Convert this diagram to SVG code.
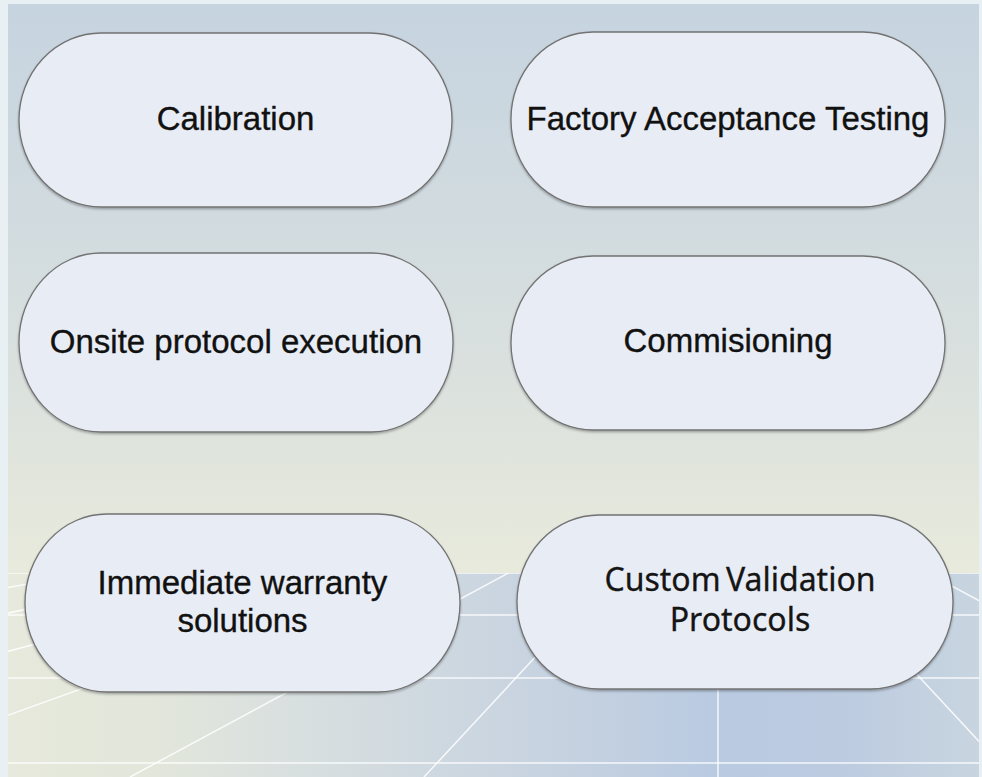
<svg xmlns="http://www.w3.org/2000/svg" width="982" height="777" viewBox="0 0 982 777">
<defs>
<linearGradient id="sky" gradientUnits="userSpaceOnUse" x1="0" y1="4" x2="0" y2="573">
<stop offset="0" stop-color="#c6d4e0"/>
<stop offset="0.35" stop-color="#d0dadf"/>
<stop offset="0.62" stop-color="#d9e0de"/>
<stop offset="0.85" stop-color="#e2e6dc"/>
<stop offset="1" stop-color="#e8eadc"/>
</linearGradient>
<linearGradient id="floor" gradientUnits="userSpaceOnUse" x1="8" y1="0" x2="979" y2="0">
<stop offset="0" stop-color="#e6e9db"/>
<stop offset="0.15" stop-color="#e2e6db"/>
<stop offset="0.3" stop-color="#d8dfdf"/>
<stop offset="0.46" stop-color="#cdd7e0"/>
<stop offset="0.61" stop-color="#c3d0e0"/>
<stop offset="0.73" stop-color="#b9cae1"/>
<stop offset="0.86" stop-color="#bccbe0"/>
<stop offset="1" stop-color="#c8d5e0"/>
</linearGradient>
<clipPath id="floorClip"><rect x="8" y="573" width="971" height="204"/></clipPath>
<filter id="sh" x="-5%" y="-5%" width="110%" height="115%">
<feDropShadow dx="0" dy="1.5" stdDeviation="1" flood-color="#000" flood-opacity="0.3"/>
</filter>
</defs>
<style>
.node{fill:#e8ecf4;stroke:#727272;stroke-width:1.3;filter:url(#sh)}
.lbl{font-family:"Liberation Sans",Arial,Helvetica,sans-serif;font-size:33px;fill:#111111;stroke:#111111;stroke-width:0.35;text-anchor:middle}
.lbl2{font-family:"Noto Sans","Liberation Sans",sans-serif;font-size:32px;fill:#151515;stroke:#151515;stroke-width:0.3;text-anchor:middle;word-spacing:-3px}
.gl{stroke:#ffffff;stroke-width:1.5;stroke-opacity:0.85;fill:none}
</style>
<g id="background">
<rect x="0" y="0" width="982" height="777" fill="#e9f0f3"/>
<rect x="8" y="4" width="971" height="773" fill="url(#sky)"/>
<rect x="8" y="573" width="971" height="204" fill="url(#floor)"/>
<g clip-path="url(#floorClip)">
<line class="gl" x1="8" y1="573" x2="979" y2="573" stroke-opacity="0.45"/>
<line class="gl" x1="8" y1="615" x2="979" y2="615"/>
<line class="gl" x1="8" y1="678" x2="979" y2="678"/>
<line class="gl" x1="8" y1="763" x2="979" y2="763" stroke-width="2.5"/>
<line class="gl" x1="718" y1="460" x2="-1046" y2="777"/>
<line class="gl" x1="718" y1="460" x2="-752" y2="777"/>
<line class="gl" x1="718" y1="460" x2="-458" y2="777"/>
<line class="gl" x1="718" y1="460" x2="-164" y2="777"/>
<line class="gl" x1="718" y1="460" x2="130" y2="777"/>
<line class="gl" x1="718" y1="460" x2="424" y2="777"/>
<line class="gl" x1="718" y1="460" x2="718" y2="777"/>
<line class="gl" x1="718" y1="460" x2="1012" y2="777"/>
<line class="gl" x1="718" y1="460" x2="1306" y2="777"/>
</g>
</g>
<g id="connectors"/>
<g id="node-calibration">
<rect class="node" x="19" y="33" width="433" height="174" rx="82" ry="87"/>
<text class="lbl" x="235.5" y="130">Calibration</text>
</g>
<g id="node-fat">
<rect class="node" x="511" y="32" width="434" height="175" rx="82" ry="87"/>
<text class="lbl" x="728" y="130">Factory Acceptance Testing</text>
</g>
<g id="node-onsite">
<rect class="node" x="19" y="253" width="434" height="179" rx="82" ry="89"/>
<text class="lbl" x="236" y="353">Onsite protocol execution</text>
</g>
<g id="node-commisioning">
<rect class="node" x="511" y="256" width="434" height="174" rx="82" ry="87"/>
<text class="lbl" x="728" y="352">Commisioning</text>
</g>
<g id="node-warranty">
<rect class="node" x="25" y="514" width="435" height="178" rx="82" ry="89"/>
<text class="lbl" x="242.5" y="594">Immediate warranty</text>
<text class="lbl" x="242.5" y="632">solutions</text>
</g>
<g id="node-custom">
<rect class="node" x="517" y="515" width="436" height="174" rx="82" ry="87"/>
<text class="lbl2" x="740" y="591">Custom Validation</text>
<text class="lbl2" x="740" y="631">Protocols</text>
</g>
</svg>
